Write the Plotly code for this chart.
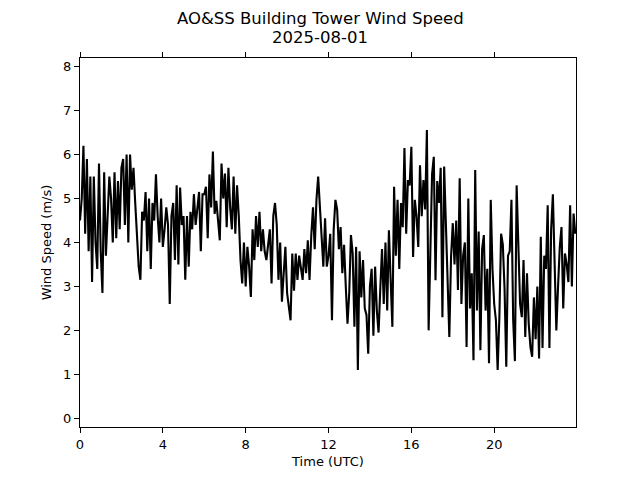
import plotly.graph_objects as go

# 5-minute wind speed samples (m/s), in 6-hour blocks
speed_00_06 = [
    4.5, 5.0, 6.2, 4.2, 5.9, 3.8, 5.5, 3.1, 5.5, 4.0, 3.4, 5.8,
    3.8, 2.85, 5.6, 3.7, 4.6, 5.5, 5.0, 4.0, 5.6, 4.1, 5.4, 4.3,
    5.7, 5.9, 4.4, 6.0, 4.0, 6.0, 5.2, 5.7, 4.9, 4.3, 3.45, 3.15,
    4.7, 4.5, 5.15, 3.8, 5.0, 3.4, 4.9, 4.5, 5.55, 4.6, 4.0, 5.0,
    3.9, 4.3, 4.8, 4.4, 2.6, 4.6, 4.9, 3.6, 5.3, 3.5, 5.25, 4.4,
    4.6, 3.15, 4.6, 3.45, 4.7, 4.3, 5.1, 4.4, 4.8, 5.15, 3.8, 5.1,
]
speed_06_12 = [
    5.1, 5.27, 4.1, 5.55, 4.8, 6.07, 4.65, 4.95, 4.5, 4.05, 5.8, 5.0,
    5.57, 4.35, 5.7, 4.8, 4.3, 5.5, 4.2, 5.3, 4.6, 3.6, 3.07, 4.0,
    3.0, 3.9, 3.45, 2.76, 4.3, 3.6, 4.6, 3.9, 4.7, 3.8, 4.3, 3.8,
    3.6, 4.0, 4.3, 3.07, 4.6, 4.9, 4.4, 3.15, 4.0, 2.65, 3.4, 3.9,
    2.85, 2.55, 2.23, 3.75, 2.9, 3.75, 3.15, 3.7, 3.45, 3.15, 3.85, 3.3,
    4.05, 3.15, 4.15, 4.8, 3.85, 4.97, 5.5, 4.85, 4.1, 3.45, 4.55, 3.45,
]
speed_12_18 = [
    3.7, 4.2, 2.23, 4.3, 4.97, 4.75, 3.85, 4.35, 3.3, 3.95, 3.0, 2.15,
    2.85, 4.17, 3.75, 2.08, 3.9, 1.1, 3.8, 2.75, 3.6, 2.5, 2.35, 1.47,
    3.0, 3.4, 1.88, 3.45, 2.45, 1.95, 2.95, 3.85, 2.6, 4.0, 2.45, 4.28,
    3.14, 2.08, 5.27, 3.7, 4.97, 3.4, 4.9, 4.35, 6.15, 4.2, 5.42, 5.3,
    6.18, 3.67, 4.97, 4.6, 3.9, 5.76, 4.6, 5.42, 4.75, 6.56, 2.0, 3.67,
    5.55, 5.95, 3.14, 5.4, 4.9, 5.7, 2.3, 5.73, 4.6, 3.3, 1.85, 3.67,
]
speed_18_24 = [
    4.44, 3.5, 4.5, 2.92, 5.46, 2.6, 3.7, 4.0, 1.62, 5.0, 2.5, 3.3,
    1.32, 5.65, 2.45, 4.25, 1.55, 3.85, 4.17, 2.45, 3.4, 1.25, 4.97, 3.4,
    2.6, 2.23, 1.1, 2.3, 4.2, 3.95, 2.95, 1.17, 3.7, 3.8, 4.97, 2.23,
    1.3, 5.3, 3.75, 2.6, 2.3, 3.6, 1.85, 3.3, 2.15, 1.62, 1.4, 2.75,
    1.8, 3.0, 1.36, 4.13, 1.6, 3.7, 3.4, 4.85, 1.6, 4.3, 5.1, 3.6,
    2.0, 3.0, 3.9, 4.35, 2.5, 3.75, 3.5, 3.1, 4.85, 3.0, 4.66, 4.2,
]

x_ticks = [0, 4, 8, 12, 16, 20]
y_ticks = [0, 1, 2, 3, 4, 5, 6, 7, 8]
title_lines = ["AO&SS Building Tower Wind Speed", "2025-08-01"]

speed = speed_00_06 + speed_06_12 + speed_12_18 + speed_18_24
sample_minutes = 5
hours = [i * sample_minutes / 60 for i in range(len(speed))]

FONT = "DejaVu Sans"
W, H = 640, 480
L, R, T, B = 80, 64, 58, 53
plot_h = H - T - B

fig = go.Figure()
fig.add_trace(go.Scatter(
    x=hours, y=speed, mode="lines",
    line=dict(color="black", width=2.1),
    showlegend=False, hoverinfo="skip",
))

# figure-centred two-line title (like a suptitle)
title_centers_px = [18, 38]
for txt, ypx in zip(title_lines, title_centers_px):
    fig.add_annotation(
        text=txt, xref="paper", yref="paper",
        x=(W / 2 - L) / (W - L - R), y=(H - B - ypx) / plot_h,
        xanchor="center", yanchor="middle", showarrow=False,
        font=dict(family=FONT, size=16.5, color="black"),
    )

fig.update_layout(
    width=W, height=H,
    margin=dict(l=L, r=R, t=T, b=B, autoexpand=False),
    paper_bgcolor="white", plot_bgcolor="white",
    font=dict(family=FONT, size=13, color="black"),
    hovermode=False,
)
fig.update_xaxes(
    range=[0, 23.95], tickmode="array", tickvals=x_ticks,
    ticktext=[str(t) for t in x_ticks],
    showgrid=False, zeroline=False, automargin=False,
    showline=True, linecolor="black", linewidth=1, mirror="ticks",
    ticks="outside", ticklen=5, tickwidth=1, tickcolor="black",
    title=dict(text="Time (UTC)", font=dict(family=FONT, size=13), standoff=6),
)
fig.update_yaxes(
    range=[-0.2, 8.2], tickmode="array", tickvals=y_ticks,
    showgrid=False, zeroline=False, automargin=False,
    showline=True, linecolor="black", linewidth=1, mirror=True,
    ticks="outside", ticklen=5, tickwidth=1, tickcolor="black",
    title=dict(text="Wind Speed (m/s)", font=dict(family=FONT, size=13), standoff=8),
)

fig.write_html(
    "out.html",
    config={"displayModeBar": False, "staticPlot": True},
    post_script="document.body.style.margin='0';",
)
